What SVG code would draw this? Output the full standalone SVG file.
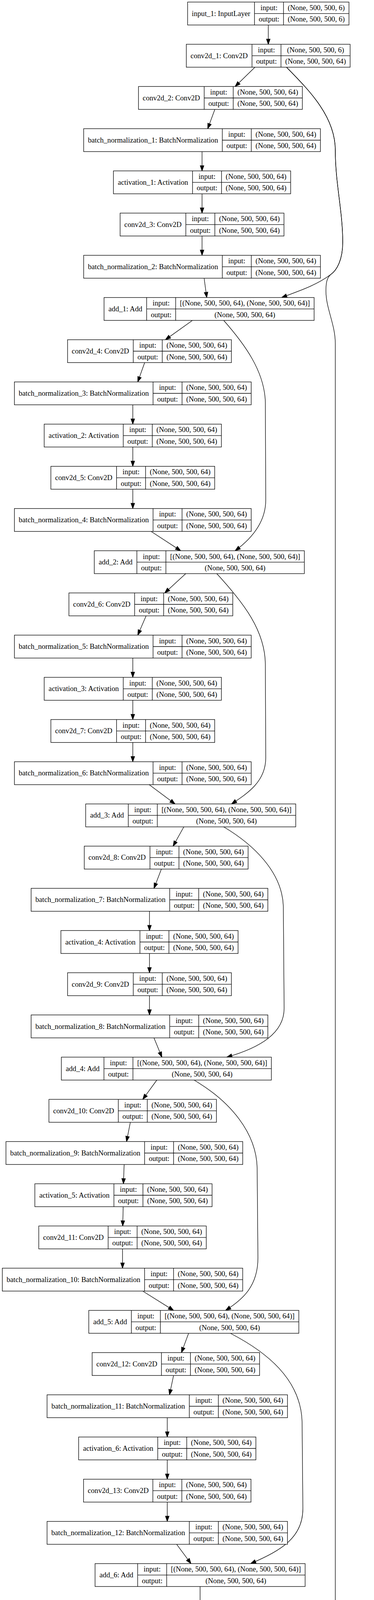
<svg xmlns="http://www.w3.org/2000/svg" width="957" height="4607" viewBox="0 0 957 4607">
<style>
.node rect{fill:#fff;stroke:#000;stroke-width:1.33}
.node path{fill:none;stroke:#000;stroke-width:1.33}
.node text{font-family:"Liberation Serif","Times New Roman",serif;font-size:18.67px;text-anchor:middle;fill:#000}
.edges path{fill:none;stroke:#000;stroke-width:1.33;marker-end:url(#ah)}
</style>
<defs>
<marker id="ah" markerUnits="userSpaceOnUse" markerWidth="15" markerHeight="11" refX="13.33" refY="4.67" orient="auto" viewBox="0 0 15 11" overflow="visible">
<path d="M0,0 L13.33,4.67 L0,9.33 Z" fill="#000" stroke="#000" stroke-width="1.33"/>
</marker>
</defs>
<rect width="957" height="4607" fill="#fff"/>
<g class="edges" id="connectors">
<path d="M686.5,64 L686.5,113.37"/>
<path d="M652.4,172.04 L601.7,221.41"/>
<path d="M549.8,280.08 L531.5,329.45"/>
<path d="M517,388.12 L517,437.49"/>
<path d="M517,496.16 L517,545.53"/>
<path d="M517,604.2 L517,653.57"/>
<path d="M522.3,712.24 L529,761.61"/>
<path d="M492.4,820.28 L423.3,869.65"/>
<path d="M370.2,928.32 L352.5,977.69"/>
<path d="M339.8,1036.36 L339.8,1085.73"/>
<path d="M339.8,1144.4 L339.8,1193.77"/>
<path d="M339.8,1252.44 L339.8,1301.81"/>
<path d="M386.7,1360.48 L462.4,1409.85"/>
<path d="M475.3,1468.52 L421.5,1517.89"/>
<path d="M373.9,1576.56 L352.5,1625.93"/>
<path d="M339.8,1684.6 L339.8,1733.97"/>
<path d="M339.8,1792.64 L339.8,1842.01"/>
<path d="M339.8,1900.68 L339.8,1950.05"/>
<path d="M381.8,2008.72 L447.8,2058.09"/>
<path d="M470.4,2116.76 L442.9,2166.13"/>
<path d="M413,2224.8 L394,2274.17"/>
<path d="M382.5,2332.84 L382.5,2382.21"/>
<path d="M382.5,2440.88 L382.5,2490.25"/>
<path d="M382.5,2548.92 L382.5,2598.29"/>
<path d="M394,2656.96 L414.2,2706.33"/>
<path d="M401.3,2765 L365.3,2814.37"/>
<path d="M333.5,2873.04 L323.8,2922.41"/>
<path d="M317.7,2981.08 L315.8,3030.45"/>
<path d="M315.2,3089.12 L314,3138.49"/>
<path d="M313.5,3197.16 L313.5,3246.53"/>
<path d="M365.3,3305.2 L444.1,3354.57"/>
<path d="M482.6,3413.24 L464.3,3462.61"/>
<path d="M444.1,3521.28 L433.7,3570.65"/>
<path d="M428,3629.32 L428,3678.69"/>
<path d="M428,3737.36 L428,3786.73"/>
<path d="M428,3845.4 L428,3894.77"/>
<path d="M452,3953.44 L488.7,4002.81"/>
<path d="M512,4061.48 L512,4110.85"/>
<path d="M512,4169.52 L512,4218.89"/>
<path d="M559,4277.56 L635.3,4326.93"/>
<path d="M683.5,4385.6 L683.5,4434.97"/>
<path d="M683.5,4493.64 L683.5,4543.01"/>
<path d="M733,172.04 C795,235 858,300 858,385 C858,470 877,540 877,620 C877,665 862,692 846,703 C810,730 765,745 720.8,761.61"/>
<path d="M733,172.04 C795,235 858,300 858,385 C858,470 877,540 877,620 C877,665 862,692 846,703 C836,712 834,725 834,745 C834,790 858,830 858,880 L858,4200 C858,4265 815,4300 775.8,4326.93"/>
<path d="M572.4,820.28 C625,880 677,950 679,1030 L680,1280 C680,1335 645,1378 601.7,1409.85"/>
<path d="M554.7,1468.52 C625,1545 678,1615 679,1700 L680,1940 C680,2000 635,2030 592.5,2058.09"/>
<path d="M572.4,2116.76 C645,2160 722,2230 725,2320 L727,2580 C728,2645 665,2682 580.3,2706.33"/>
<path d="M496.6,2765 C590,2820 656,2900 658,2990 L660,3220 C660,3292 622,3326 577.3,3354.57"/>
<path d="M589.5,3413.24 C680,3460 770,3530 773,3640 L775,3860 C776,3935 722,3968 641.4,4002.81"/>
</g>

<g id="input_1" class="node" transform="translate(480.05,5.33)"><rect width="412.9" height="58.67"/><path d="M171.2,0V58.67M245.4,0V58.67M171.2,29.33H412.9"/><text x="85.6" y="35.3">input_1: InputLayer</text><text x="208.3" y="20.67">input:</text><text x="208.3" y="50">output:</text><text x="329.15" y="20.67">(None, 500, 500, 6)</text><text x="329.15" y="50">(None, 500, 500, 6)</text></g>

<g id="conv2d_1" class="node" transform="translate(476.7,113.37)"><rect width="419.2" height="58.67"/><path d="M168.1,0V58.67M242.3,0V58.67M168.1,29.33H419.2"/><text x="84.05" y="35.3">conv2d_1: Conv2D</text><text x="205.2" y="20.67">input:</text><text x="205.2" y="50">output:</text><text x="330.75" y="20.67">(None, 500, 500, 6)</text><text x="330.75" y="50">(None, 500, 500, 64)</text></g>

<g id="conv2d_2" class="node" transform="translate(354.4,221.41)"><rect width="419.2" height="58.67"/><path d="M168.1,0V58.67M242.3,0V58.67M168.1,29.33H419.2"/><text x="84.05" y="35.3">conv2d_2: Conv2D</text><text x="205.2" y="20.67">input:</text><text x="205.2" y="50">output:</text><text x="330.75" y="20.67">(None, 500, 500, 64)</text><text x="330.75" y="50">(None, 500, 500, 64)</text></g>

<g id="batch_normalization_1" class="node" transform="translate(214.1,329.45)"><rect width="605.8" height="58.67"/><path d="M354.7,0V58.67M428.9,0V58.67M354.7,29.33H605.8"/><text x="177.35" y="35.3">batch_normalization_1: BatchNormalization</text><text x="391.8" y="20.67">input:</text><text x="391.8" y="50">output:</text><text x="517.35" y="20.67">(None, 500, 500, 64)</text><text x="517.35" y="50">(None, 500, 500, 64)</text></g>

<g id="activation_1" class="node" transform="translate(290.3,437.49)"><rect width="453.4" height="58.67"/><path d="M202.3,0V58.67M276.5,0V58.67M202.3,29.33H453.4"/><text x="101.15" y="35.3">activation_1: Activation</text><text x="239.4" y="20.67">input:</text><text x="239.4" y="50">output:</text><text x="364.95" y="20.67">(None, 500, 500, 64)</text><text x="364.95" y="50">(None, 500, 500, 64)</text></g>

<g id="conv2d_3" class="node" transform="translate(307.4,545.53)"><rect width="419.2" height="58.67"/><path d="M168.1,0V58.67M242.3,0V58.67M168.1,29.33H419.2"/><text x="84.05" y="35.3">conv2d_3: Conv2D</text><text x="205.2" y="20.67">input:</text><text x="205.2" y="50">output:</text><text x="330.75" y="20.67">(None, 500, 500, 64)</text><text x="330.75" y="50">(None, 500, 500, 64)</text></g>

<g id="batch_normalization_2" class="node" transform="translate(214.1,653.57)"><rect width="605.8" height="58.67"/><path d="M354.7,0V58.67M428.9,0V58.67M354.7,29.33H605.8"/><text x="177.35" y="35.3">batch_normalization_2: BatchNormalization</text><text x="391.8" y="20.67">input:</text><text x="391.8" y="50">output:</text><text x="517.35" y="20.67">(None, 500, 500, 64)</text><text x="517.35" y="50">(None, 500, 500, 64)</text></g>

<g id="add_1" class="node" transform="translate(266.3,761.61)"><rect width="537.4" height="58.67"/><path d="M109,0V58.67M183.2,0V58.67M109,29.33H537.4"/><text x="54.5" y="35.3">add_1: Add</text><text x="146.1" y="20.67">input:</text><text x="146.1" y="50">output:</text><text x="360.3" y="20.67">[(None, 500, 500, 64), (None, 500, 500, 64)]</text><text x="360.3" y="50">(None, 500, 500, 64)</text></g>

<g id="conv2d_4" class="node" transform="translate(172.9,869.65)"><rect width="419.2" height="58.67"/><path d="M168.1,0V58.67M242.3,0V58.67M168.1,29.33H419.2"/><text x="84.05" y="35.3">conv2d_4: Conv2D</text><text x="205.2" y="20.67">input:</text><text x="205.2" y="50">output:</text><text x="330.75" y="20.67">(None, 500, 500, 64)</text><text x="330.75" y="50">(None, 500, 500, 64)</text></g>

<g id="batch_normalization_3" class="node" transform="translate(36.9,977.69)"><rect width="605.8" height="58.67"/><path d="M354.7,0V58.67M428.9,0V58.67M354.7,29.33H605.8"/><text x="177.35" y="35.3">batch_normalization_3: BatchNormalization</text><text x="391.8" y="20.67">input:</text><text x="391.8" y="50">output:</text><text x="517.35" y="20.67">(None, 500, 500, 64)</text><text x="517.35" y="50">(None, 500, 500, 64)</text></g>

<g id="activation_2" class="node" transform="translate(113.1,1085.73)"><rect width="453.4" height="58.67"/><path d="M202.3,0V58.67M276.5,0V58.67M202.3,29.33H453.4"/><text x="101.15" y="35.3">activation_2: Activation</text><text x="239.4" y="20.67">input:</text><text x="239.4" y="50">output:</text><text x="364.95" y="20.67">(None, 500, 500, 64)</text><text x="364.95" y="50">(None, 500, 500, 64)</text></g>

<g id="conv2d_5" class="node" transform="translate(130.2,1193.77)"><rect width="419.2" height="58.67"/><path d="M168.1,0V58.67M242.3,0V58.67M168.1,29.33H419.2"/><text x="84.05" y="35.3">conv2d_5: Conv2D</text><text x="205.2" y="20.67">input:</text><text x="205.2" y="50">output:</text><text x="330.75" y="20.67">(None, 500, 500, 64)</text><text x="330.75" y="50">(None, 500, 500, 64)</text></g>

<g id="batch_normalization_4" class="node" transform="translate(36.9,1301.81)"><rect width="605.8" height="58.67"/><path d="M354.7,0V58.67M428.9,0V58.67M354.7,29.33H605.8"/><text x="177.35" y="35.3">batch_normalization_4: BatchNormalization</text><text x="391.8" y="20.67">input:</text><text x="391.8" y="50">output:</text><text x="517.35" y="20.67">(None, 500, 500, 64)</text><text x="517.35" y="50">(None, 500, 500, 64)</text></g>

<g id="add_2" class="node" transform="translate(241.3,1409.85)"><rect width="537.4" height="58.67"/><path d="M109,0V58.67M183.2,0V58.67M109,29.33H537.4"/><text x="54.5" y="35.3">add_2: Add</text><text x="146.1" y="20.67">input:</text><text x="146.1" y="50">output:</text><text x="360.3" y="20.67">[(None, 500, 500, 64), (None, 500, 500, 64)]</text><text x="360.3" y="50">(None, 500, 500, 64)</text></g>

<g id="conv2d_6" class="node" transform="translate(176.4,1517.89)"><rect width="419.2" height="58.67"/><path d="M168.1,0V58.67M242.3,0V58.67M168.1,29.33H419.2"/><text x="84.05" y="35.3">conv2d_6: Conv2D</text><text x="205.2" y="20.67">input:</text><text x="205.2" y="50">output:</text><text x="330.75" y="20.67">(None, 500, 500, 64)</text><text x="330.75" y="50">(None, 500, 500, 64)</text></g>

<g id="batch_normalization_5" class="node" transform="translate(36.9,1625.93)"><rect width="605.8" height="58.67"/><path d="M354.7,0V58.67M428.9,0V58.67M354.7,29.33H605.8"/><text x="177.35" y="35.3">batch_normalization_5: BatchNormalization</text><text x="391.8" y="20.67">input:</text><text x="391.8" y="50">output:</text><text x="517.35" y="20.67">(None, 500, 500, 64)</text><text x="517.35" y="50">(None, 500, 500, 64)</text></g>

<g id="activation_3" class="node" transform="translate(113.1,1733.97)"><rect width="453.4" height="58.67"/><path d="M202.3,0V58.67M276.5,0V58.67M202.3,29.33H453.4"/><text x="101.15" y="35.3">activation_3: Activation</text><text x="239.4" y="20.67">input:</text><text x="239.4" y="50">output:</text><text x="364.95" y="20.67">(None, 500, 500, 64)</text><text x="364.95" y="50">(None, 500, 500, 64)</text></g>

<g id="conv2d_7" class="node" transform="translate(130.2,1842.01)"><rect width="419.2" height="58.67"/><path d="M168.1,0V58.67M242.3,0V58.67M168.1,29.33H419.2"/><text x="84.05" y="35.3">conv2d_7: Conv2D</text><text x="205.2" y="20.67">input:</text><text x="205.2" y="50">output:</text><text x="330.75" y="20.67">(None, 500, 500, 64)</text><text x="330.75" y="50">(None, 500, 500, 64)</text></g>

<g id="batch_normalization_6" class="node" transform="translate(36.9,1950.05)"><rect width="605.8" height="58.67"/><path d="M354.7,0V58.67M428.9,0V58.67M354.7,29.33H605.8"/><text x="177.35" y="35.3">batch_normalization_6: BatchNormalization</text><text x="391.8" y="20.67">input:</text><text x="391.8" y="50">output:</text><text x="517.35" y="20.67">(None, 500, 500, 64)</text><text x="517.35" y="50">(None, 500, 500, 64)</text></g>

<g id="add_3" class="node" transform="translate(219.3,2058.09)"><rect width="537.4" height="58.67"/><path d="M109,0V58.67M183.2,0V58.67M109,29.33H537.4"/><text x="54.5" y="35.3">add_3: Add</text><text x="146.1" y="20.67">input:</text><text x="146.1" y="50">output:</text><text x="360.3" y="20.67">[(None, 500, 500, 64), (None, 500, 500, 64)]</text><text x="360.3" y="50">(None, 500, 500, 64)</text></g>

<g id="conv2d_8" class="node" transform="translate(215.6,2166.13)"><rect width="419.2" height="58.67"/><path d="M168.1,0V58.67M242.3,0V58.67M168.1,29.33H419.2"/><text x="84.05" y="35.3">conv2d_8: Conv2D</text><text x="205.2" y="20.67">input:</text><text x="205.2" y="50">output:</text><text x="330.75" y="20.67">(None, 500, 500, 64)</text><text x="330.75" y="50">(None, 500, 500, 64)</text></g>

<g id="batch_normalization_7" class="node" transform="translate(79.6,2274.17)"><rect width="605.8" height="58.67"/><path d="M354.7,0V58.67M428.9,0V58.67M354.7,29.33H605.8"/><text x="177.35" y="35.3">batch_normalization_7: BatchNormalization</text><text x="391.8" y="20.67">input:</text><text x="391.8" y="50">output:</text><text x="517.35" y="20.67">(None, 500, 500, 64)</text><text x="517.35" y="50">(None, 500, 500, 64)</text></g>

<g id="activation_4" class="node" transform="translate(155.8,2382.21)"><rect width="453.4" height="58.67"/><path d="M202.3,0V58.67M276.5,0V58.67M202.3,29.33H453.4"/><text x="101.15" y="35.3">activation_4: Activation</text><text x="239.4" y="20.67">input:</text><text x="239.4" y="50">output:</text><text x="364.95" y="20.67">(None, 500, 500, 64)</text><text x="364.95" y="50">(None, 500, 500, 64)</text></g>

<g id="conv2d_9" class="node" transform="translate(172.9,2490.25)"><rect width="419.2" height="58.67"/><path d="M168.1,0V58.67M242.3,0V58.67M168.1,29.33H419.2"/><text x="84.05" y="35.3">conv2d_9: Conv2D</text><text x="205.2" y="20.67">input:</text><text x="205.2" y="50">output:</text><text x="330.75" y="20.67">(None, 500, 500, 64)</text><text x="330.75" y="50">(None, 500, 500, 64)</text></g>

<g id="batch_normalization_8" class="node" transform="translate(79.6,2598.29)"><rect width="605.8" height="58.67"/><path d="M354.7,0V58.67M428.9,0V58.67M354.7,29.33H605.8"/><text x="177.35" y="35.3">batch_normalization_8: BatchNormalization</text><text x="391.8" y="20.67">input:</text><text x="391.8" y="50">output:</text><text x="517.35" y="20.67">(None, 500, 500, 64)</text><text x="517.35" y="50">(None, 500, 500, 64)</text></g>

<g id="add_4" class="node" transform="translate(157,2706.33)"><rect width="537.4" height="58.67"/><path d="M109,0V58.67M183.2,0V58.67M109,29.33H537.4"/><text x="54.5" y="35.3">add_4: Add</text><text x="146.1" y="20.67">input:</text><text x="146.1" y="50">output:</text><text x="360.3" y="20.67">[(None, 500, 500, 64), (None, 500, 500, 64)]</text><text x="360.3" y="50">(None, 500, 500, 64)</text></g>

<g id="conv2d_10" class="node" transform="translate(125.25,2814.37)"><rect width="428.5" height="58.67"/><path d="M177.4,0V58.67M251.6,0V58.67M177.4,29.33H428.5"/><text x="88.7" y="35.3">conv2d_10: Conv2D</text><text x="214.5" y="20.67">input:</text><text x="214.5" y="50">output:</text><text x="340.05" y="20.67">(None, 500, 500, 64)</text><text x="340.05" y="50">(None, 500, 500, 64)</text></g>

<g id="batch_normalization_9" class="node" transform="translate(15.3,2922.41)"><rect width="605.8" height="58.67"/><path d="M354.7,0V58.67M428.9,0V58.67M354.7,29.33H605.8"/><text x="177.35" y="35.3">batch_normalization_9: BatchNormalization</text><text x="391.8" y="20.67">input:</text><text x="391.8" y="50">output:</text><text x="517.35" y="20.67">(None, 500, 500, 64)</text><text x="517.35" y="50">(None, 500, 500, 64)</text></g>

<g id="activation_5" class="node" transform="translate(89.2,3030.45)"><rect width="453.4" height="58.67"/><path d="M202.3,0V58.67M276.5,0V58.67M202.3,29.33H453.4"/><text x="101.15" y="35.3">activation_5: Activation</text><text x="239.4" y="20.67">input:</text><text x="239.4" y="50">output:</text><text x="364.95" y="20.67">(None, 500, 500, 64)</text><text x="364.95" y="50">(None, 500, 500, 64)</text></g>

<g id="conv2d_11" class="node" transform="translate(99.25,3138.49)"><rect width="428.5" height="58.67"/><path d="M177.4,0V58.67M251.6,0V58.67M177.4,29.33H428.5"/><text x="88.7" y="35.3">conv2d_11: Conv2D</text><text x="214.5" y="20.67">input:</text><text x="214.5" y="50">output:</text><text x="340.05" y="20.67">(None, 500, 500, 64)</text><text x="340.05" y="50">(None, 500, 500, 64)</text></g>

<g id="batch_normalization_10" class="node" transform="translate(5.95,3246.53)"><rect width="615.1" height="58.67"/><path d="M364,0V58.67M438.2,0V58.67M364,29.33H615.1"/><text x="182" y="35.3">batch_normalization_10: BatchNormalization</text><text x="401.1" y="20.67">input:</text><text x="401.1" y="50">output:</text><text x="526.65" y="20.67">(None, 500, 500, 64)</text><text x="526.65" y="50">(None, 500, 500, 64)</text></g>

<g id="add_5" class="node" transform="translate(227.2,3354.57)"><rect width="537.4" height="58.67"/><path d="M109,0V58.67M183.2,0V58.67M109,29.33H537.4"/><text x="54.5" y="35.3">add_5: Add</text><text x="146.1" y="20.67">input:</text><text x="146.1" y="50">output:</text><text x="360.3" y="20.67">[(None, 500, 500, 64), (None, 500, 500, 64)]</text><text x="360.3" y="50">(None, 500, 500, 64)</text></g>

<g id="conv2d_12" class="node" transform="translate(235.75,3462.61)"><rect width="428.5" height="58.67"/><path d="M177.4,0V58.67M251.6,0V58.67M177.4,29.33H428.5"/><text x="88.7" y="35.3">conv2d_12: Conv2D</text><text x="214.5" y="20.67">input:</text><text x="214.5" y="50">output:</text><text x="340.05" y="20.67">(None, 500, 500, 64)</text><text x="340.05" y="50">(None, 500, 500, 64)</text></g>

<g id="batch_normalization_11" class="node" transform="translate(120.45,3570.65)"><rect width="615.1" height="58.67"/><path d="M364,0V58.67M438.2,0V58.67M364,29.33H615.1"/><text x="182" y="35.3">batch_normalization_11: BatchNormalization</text><text x="401.1" y="20.67">input:</text><text x="401.1" y="50">output:</text><text x="526.65" y="20.67">(None, 500, 500, 64)</text><text x="526.65" y="50">(None, 500, 500, 64)</text></g>

<g id="activation_6" class="node" transform="translate(201.3,3678.69)"><rect width="453.4" height="58.67"/><path d="M202.3,0V58.67M276.5,0V58.67M202.3,29.33H453.4"/><text x="101.15" y="35.3">activation_6: Activation</text><text x="239.4" y="20.67">input:</text><text x="239.4" y="50">output:</text><text x="364.95" y="20.67">(None, 500, 500, 64)</text><text x="364.95" y="50">(None, 500, 500, 64)</text></g>

<g id="conv2d_13" class="node" transform="translate(213.75,3786.73)"><rect width="428.5" height="58.67"/><path d="M177.4,0V58.67M251.6,0V58.67M177.4,29.33H428.5"/><text x="88.7" y="35.3">conv2d_13: Conv2D</text><text x="214.5" y="20.67">input:</text><text x="214.5" y="50">output:</text><text x="340.05" y="20.67">(None, 500, 500, 64)</text><text x="340.05" y="50">(None, 500, 500, 64)</text></g>

<g id="batch_normalization_12" class="node" transform="translate(120.45,3894.77)"><rect width="615.1" height="58.67"/><path d="M364,0V58.67M438.2,0V58.67M364,29.33H615.1"/><text x="182" y="35.3">batch_normalization_12: BatchNormalization</text><text x="401.1" y="20.67">input:</text><text x="401.1" y="50">output:</text><text x="526.65" y="20.67">(None, 500, 500, 64)</text><text x="526.65" y="50">(None, 500, 500, 64)</text></g>

<g id="add_6" class="node" transform="translate(243.3,4002.81)"><rect width="537.4" height="58.67"/><path d="M109,0V58.67M183.2,0V58.67M109,29.33H537.4"/><text x="54.5" y="35.3">add_6: Add</text><text x="146.1" y="20.67">input:</text><text x="146.1" y="50">output:</text><text x="360.3" y="20.67">[(None, 500, 500, 64), (None, 500, 500, 64)]</text><text x="360.3" y="50">(None, 500, 500, 64)</text></g>

<g id="conv2d_14" class="node" transform="translate(297.75,4110.85)"><rect width="428.5" height="58.67"/><path d="M177.4,0V58.67M251.6,0V58.67M177.4,29.33H428.5"/><text x="88.7" y="35.3">conv2d_14: Conv2D</text><text x="214.5" y="20.67">input:</text><text x="214.5" y="50">output:</text><text x="340.05" y="20.67">(None, 500, 500, 64)</text><text x="340.05" y="50">(None, 500, 500, 64)</text></g>

<g id="batch_normalization_13" class="node" transform="translate(204.45,4218.89)"><rect width="615.1" height="58.67"/><path d="M364,0V58.67M438.2,0V58.67M364,29.33H615.1"/><text x="182" y="35.3">batch_normalization_13: BatchNormalization</text><text x="401.1" y="20.67">input:</text><text x="401.1" y="50">output:</text><text x="526.65" y="20.67">(None, 500, 500, 64)</text><text x="526.65" y="50">(None, 500, 500, 64)</text></g>

<g id="add_7" class="node" transform="translate(414.8,4326.93)"><rect width="537.4" height="58.67"/><path d="M109,0V58.67M183.2,0V58.67M109,29.33H537.4"/><text x="54.5" y="35.3">add_7: Add</text><text x="146.1" y="20.67">input:</text><text x="146.1" y="50">output:</text><text x="360.3" y="20.67">[(None, 500, 500, 64), (None, 500, 500, 64)]</text><text x="360.3" y="50">(None, 500, 500, 64)</text></g>

<g id="conv2d_15" class="node" transform="translate(469.25,4434.97)"><rect width="428.5" height="58.67"/><path d="M177.4,0V58.67M251.6,0V58.67M177.4,29.33H428.5"/><text x="88.7" y="35.3">conv2d_15: Conv2D</text><text x="214.5" y="20.67">input:</text><text x="214.5" y="50">output:</text><text x="340.05" y="20.67">(None, 500, 500, 64)</text><text x="340.05" y="50">(None, 500, 500, 4)</text></g>

<g id="activation_7" class="node" transform="translate(461.5,4543.01)"><rect width="444" height="58.67"/><path d="M202.3,0V58.67M276.5,0V58.67M202.3,29.33H444"/><text x="101.15" y="35.3">activation_7: Activation</text><text x="239.4" y="20.67">input:</text><text x="239.4" y="50">output:</text><text x="360.25" y="20.67">(None, 500, 500, 4)</text><text x="360.25" y="50">(None, 500, 500, 4)</text></g>
</svg>
